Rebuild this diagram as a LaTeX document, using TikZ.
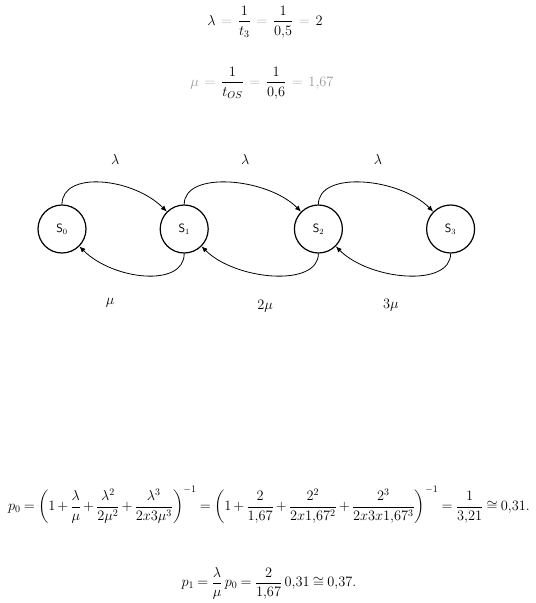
\documentclass[tikz,border=0pt]{standalone}
\usepackage{amsmath,amssymb}
\usepackage{xcolor}
\usetikzlibrary{arrows.meta,positioning}

\newcommand{\fq}{\mathrel{\textcolor{black!30}{=}}}

\begin{document}
\begin{tikzpicture}[x=1pt,y=1pt,
  state/.style={circle, draw, very thick, minimum size=48pt, inner sep=0pt, font=\sffamily\large},
  arr/.style={-{Latex[length=6pt,width=5pt]}, thick},
  rate/.style={font=\fontsize{14}{16}\selectfont},
  eq/.style={font=\fontsize{14}{17}\selectfont, inner sep=0pt}
]
\useasboundingbox (0,0) rectangle (536,-603);
% rates
\node[eq] (lam) at (265,-22) {\thickmuskip=7mu $\lambda \fq \dfrac{1}{t_3} \fq \dfrac{1}{0{,}5} \fq 2$};
\node[eq] (mu) at (262,-83) {\thickmuskip=7mu $\textcolor{black!40}{\mu} \fq \dfrac{1}{t_{OS}} \fq \dfrac{1}{0{,}6} \fq \textcolor{black!40}{1{,}67}$};
% states
\node[state] (s0) at (62,-229) {S$_0$};
\node[state, right=73pt of s0] (s1) {S$_1$};
\node[state, right=85pt of s1] (s2) {S$_2$};
\node[state, right=83pt of s2] (s3) {S$_3$};
% transitions
\draw[arr] (s0.north) .. controls +(0,34) and +(-34,34) .. (s1.135) node[rate, pos=0.6, above=16pt] {$\lambda$};
\draw[arr] (s1.north) .. controls +(0,34) and +(-34,34) .. (s2.135) node[rate, pos=0.6, above=16pt] {$\lambda$};
\draw[arr] (s2.north) .. controls +(0,34) and +(-34,34) .. (s3.135) node[rate, pos=0.6, above=16pt] {$\lambda$};
\draw[arr] (s1.south) .. controls +(0,-34) and +(34,-34) .. (s0.-45) node[rate, pos=0.75, below=28pt] {$\mu$};
\draw[arr] (s2.south) .. controls +(0,-34) and +(34,-34) .. (s1.-45) node[rate, pos=0.55, below=22pt] {$2\mu$};
\draw[arr] (s3.south) .. controls +(0,-34) and +(34,-34) .. (s2.-45) node[rate, pos=0.6, below=22pt] {$3\mu$};
% probabilities
\node[eq] (p0) at (269,-505) {\medmuskip=2.5mu \thickmuskip=4mu $p_0=\left(1+\dfrac{\lambda}{\mu}+\dfrac{\lambda^2}{2\mu^2}+\dfrac{\lambda^3}{2x3\mu^3}\right)^{-1}=\left(1+\dfrac{2}{1{,}67}+\dfrac{2^2}{2x1{,}67^2}+\dfrac{2^3}{2x3x1{,}67^3}\right)^{-1}=\dfrac{1}{3{,}21}\cong 0{,}31.$};
\node[eq, below=43pt of p0] (p1) {\medmuskip=2.5mu \thickmuskip=4mu $p_1=\dfrac{\lambda}{\mu}\,p_0=\dfrac{2}{1{,}67}\,0{,}31\cong 0{,}37.$};
\end{tikzpicture}
\end{document}
